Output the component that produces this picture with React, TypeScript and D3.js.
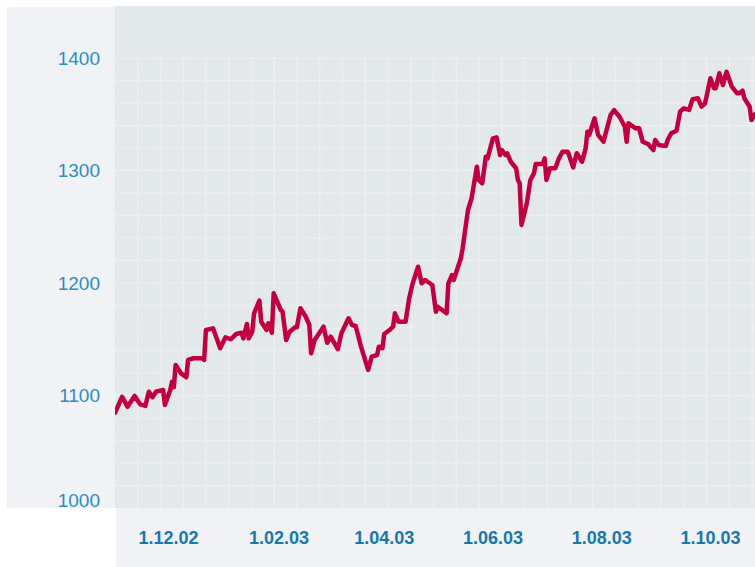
import React from 'react';
import * as d3 from 'd3';

const dates = [
  '2002-11-01', '2002-11-05', '2002-11-08', '2002-11-12', '2002-11-15', '2002-11-18', '2002-11-20', '2002-11-22',
  '2002-11-24', '2002-11-28', '2002-11-29', '2002-12-02', '2002-12-03', '2002-12-04', '2002-12-05', '2002-12-08',
  '2002-12-11', '2002-12-12', '2002-12-15', '2002-12-20', '2002-12-21', '2002-12-22', '2002-12-26', '2002-12-30',
  '2003-01-02', '2003-01-05', '2003-01-08', '2003-01-11', '2003-01-12', '2003-01-14', '2003-01-15', '2003-01-17',
  '2003-01-18', '2003-01-21', '2003-01-22', '2003-01-25', '2003-01-26', '2003-01-28', '2003-01-29', '2003-02-02',
  '2003-02-03', '2003-02-05', '2003-02-07', '2003-02-10', '2003-02-11', '2003-02-13', '2003-02-16', '2003-02-18',
  '2003-02-19', '2003-02-21', '2003-02-26', '2003-02-28', '2003-03-02', '2003-03-06', '2003-03-08', '2003-03-12',
  '2003-03-14', '2003-03-16', '2003-03-19', '2003-03-23', '2003-03-25', '2003-03-28', '2003-03-29', '2003-03-31',
  '2003-04-01', '2003-04-04', '2003-04-06', '2003-04-07', '2003-04-09', '2003-04-13', '2003-04-15', '2003-04-17',
  '2003-04-20', '2003-04-22', '2003-04-24', '2003-04-28', '2003-04-30', '2003-05-01', '2003-05-06', '2003-05-07',
  '2003-05-09', '2003-05-10', '2003-05-14', '2003-05-15', '2003-05-18', '2003-05-20', '2003-05-23', '2003-05-24',
  '2003-05-26', '2003-05-28', '2003-05-29', '2003-06-01', '2003-06-03', '2003-06-05', '2003-06-06', '2003-06-08',
  '2003-06-09', '2003-06-11', '2003-06-14', '2003-06-15', '2003-06-16', '2003-06-17', '2003-06-20', '2003-06-22',
  '2003-06-24', '2003-06-25', '2003-06-29', '2003-06-30', '2003-07-01', '2003-07-03', '2003-07-06', '2003-07-08',
  '2003-07-10', '2003-07-13', '2003-07-16', '2003-07-18', '2003-07-21', '2003-07-23', '2003-07-24', '2003-07-25',
  '2003-07-28', '2003-07-30', '2003-08-02', '2003-08-06', '2003-08-08', '2003-08-11', '2003-08-14', '2003-08-15',
  '2003-08-16', '2003-08-20', '2003-08-22', '2003-08-24', '2003-08-27', '2003-08-30', '2003-08-31', '2003-09-02',
  '2003-09-06', '2003-09-07', '2003-09-09', '2003-09-12', '2003-09-14', '2003-09-16', '2003-09-19', '2003-09-21',
  '2003-09-24', '2003-09-26', '2003-09-28', '2003-10-01', '2003-10-03', '2003-10-04', '2003-10-06', '2003-10-08',
  '2003-10-10', '2003-10-13', '2003-10-16', '2003-10-17', '2003-10-19', '2003-10-20', '2003-10-23', '2003-10-24',
  '2003-10-26',
];

const values = [
  1084.7, 1098.9, 1090.0, 1099.6, 1092.4, 1090.7, 1103.4, 1098.4,
  1103.4, 1104.9, 1091.6, 1104.9, 1112.3, 1107.3, 1127.1, 1119.7,
  1116.2, 1131.6, 1133.1, 1133.1, 1131.6, 1158.2, 1159.7, 1142.0,
  1151.7, 1150.0, 1154.7, 1155.8, 1150.8, 1163.6, 1150.8, 1156.7,
  1173.1, 1184.3, 1165.6, 1158.2, 1164.2, 1155.8, 1190.8, 1176.0,
  1174.5, 1149.3, 1156.7, 1160.6, 1160.6, 1177.5, 1170.0, 1162.7,
  1137.5, 1149.3, 1161.2, 1146.9, 1152.3, 1141.1, 1155.3, 1168.6,
  1162.7, 1161.8, 1143.4, 1122.7, 1134.5, 1136.0, 1143.4, 1142.0,
  1154.7, 1158.2, 1161.2, 1173.1, 1165.6, 1165.6, 1186.4, 1199.7,
  1214.5, 1199.7, 1202.7, 1198.2, 1174.5, 1178.9, 1173.1, 1199.7,
  1207.1, 1202.7, 1222.0, 1230.8, 1264.9, 1275.3, 1303.4, 1291.6,
  1288.6, 1312.3, 1310.8, 1328.6, 1329.5, 1313.8, 1318.2, 1313.8,
  1315.3, 1307.8, 1302.0, 1291.6, 1288.6, 1251.6, 1270.9, 1291.6,
  1297.5, 1305.8, 1305.8, 1310.8, 1291.6, 1302.0, 1302.0, 1310.8,
  1316.7, 1316.7, 1302.8, 1315.3, 1307.8, 1319.7, 1334.5, 1331.6,
  1346.4, 1331.6, 1325.6, 1349.3, 1353.7, 1347.8, 1338.9, 1325.6,
  1342.0, 1337.5, 1337.5, 1325.6, 1323.6, 1318.2, 1327.1, 1322.7,
  1321.8, 1327.1, 1333.1, 1335.4, 1352.3, 1355.3, 1353.8, 1363.3,
  1364.2, 1356.7, 1359.7, 1382.0, 1373.1, 1373.1, 1386.4, 1376.0,
  1387.8, 1374.5, 1368.6, 1368.6, 1370.9, 1364.2, 1356.7, 1344.9,
  1350.0,
];

const yTicks = [1000, 1100, 1200, 1300, 1400];
const xTicks = ['2002-12-01', '2003-02-01', '2003-04-01', '2003-06-01', '2003-08-01', '2003-10-01'];
const xDomain = ['2002-11-01', '2003-10-26'];

const W = 755;
const H = 567;
const plot = { left: 115, right: 755, top: 6, gridTop: 58, bottom: 508 };

const parse = d3.utcParse('%Y-%m-%d');
const fmt = d3.utcFormat('%-d.%m.%y');

export default function App() {
  const data = dates.map((d, i) => ({ date: parse(d) as Date, value: values[i] }));

  const x = d3.scaleUtc()
    .domain(xDomain.map(d => parse(d) as Date))
    .range([plot.left, plot.right]);

  const y = d3.scaleLinear()
    .domain([1000, 1400])
    .range([plot.bottom, plot.gridTop]);

  // background grid: 20-unit rows, square-ish columns
  const hGrid = d3.range(1020, 1401, 20);
  const gridCols = d3.scaleLinear().domain([0, 28]).range([plot.left, 752]);
  const vGrid = d3.range(1, 29);

  const line = d3.line<{ date: Date; value: number }>()
    .x(d => x(d.date))
    .y(d => y(d.value));

  return (
    <svg width={W} height={H} style={{ position: 'absolute', left: 0, top: 0 }}
      fontFamily="'Liberation Sans', Arial, sans-serif">
      <rect x={0} y={0} width={W} height={H} fill="#ffffff" />
      <rect x={7} y={7} width={plot.left - 7} height={plot.bottom - 7} fill="#f0f2f6" />
      <rect x={plot.left + 1} y={plot.bottom} width={W - plot.left - 1} height={H - plot.bottom} fill="#f0f2f6" />
      <rect x={plot.left} y={plot.top} width={plot.right - plot.left} height={plot.bottom - plot.top} fill="#e3e8ea" />

      <g stroke="#eeedf0" strokeWidth={1.6}>
        {hGrid.map(v => (
          <line key={'h' + v} x1={plot.left} x2={plot.right} y1={y(v)} y2={y(v)} />
        ))}
        {vGrid.map(k => (
          <line key={'v' + k} x1={gridCols(k)} x2={gridCols(k)} y1={plot.gridTop} y2={plot.bottom} />
        ))}
      </g>

      <defs>
        <clipPath id="plotClip">
          <rect x={plot.left} y={plot.top} width={plot.right - plot.left} height={plot.bottom - plot.top} />
        </clipPath>
      </defs>
      <path d={line(data) || ''} fill="none" stroke="#c2003f" strokeWidth={4.5}
        strokeLinejoin="round" strokeLinecap="round" clipPath="url(#plotClip)" />

      <g fill="#2e8dc2" fontSize={19} textAnchor="end">
        {yTicks.map(t => (
          // lowest label sits on the panel's bottom edge instead of centring on it
          <text key={t} x={100} y={y(t)} dy={t === yTicks[0] ? '-0.05em' : '0.36em'}>{t}</text>
        ))}
      </g>

      <g fill="#1679a9" fontSize={18} fontWeight="bold" textAnchor="middle">
        {xTicks.map(t => {
          const d = parse(t) as Date;
          return <text key={t} x={x(d)} y={544}>{fmt(d)}</text>;
        })}
      </g>
    </svg>
  );
}
